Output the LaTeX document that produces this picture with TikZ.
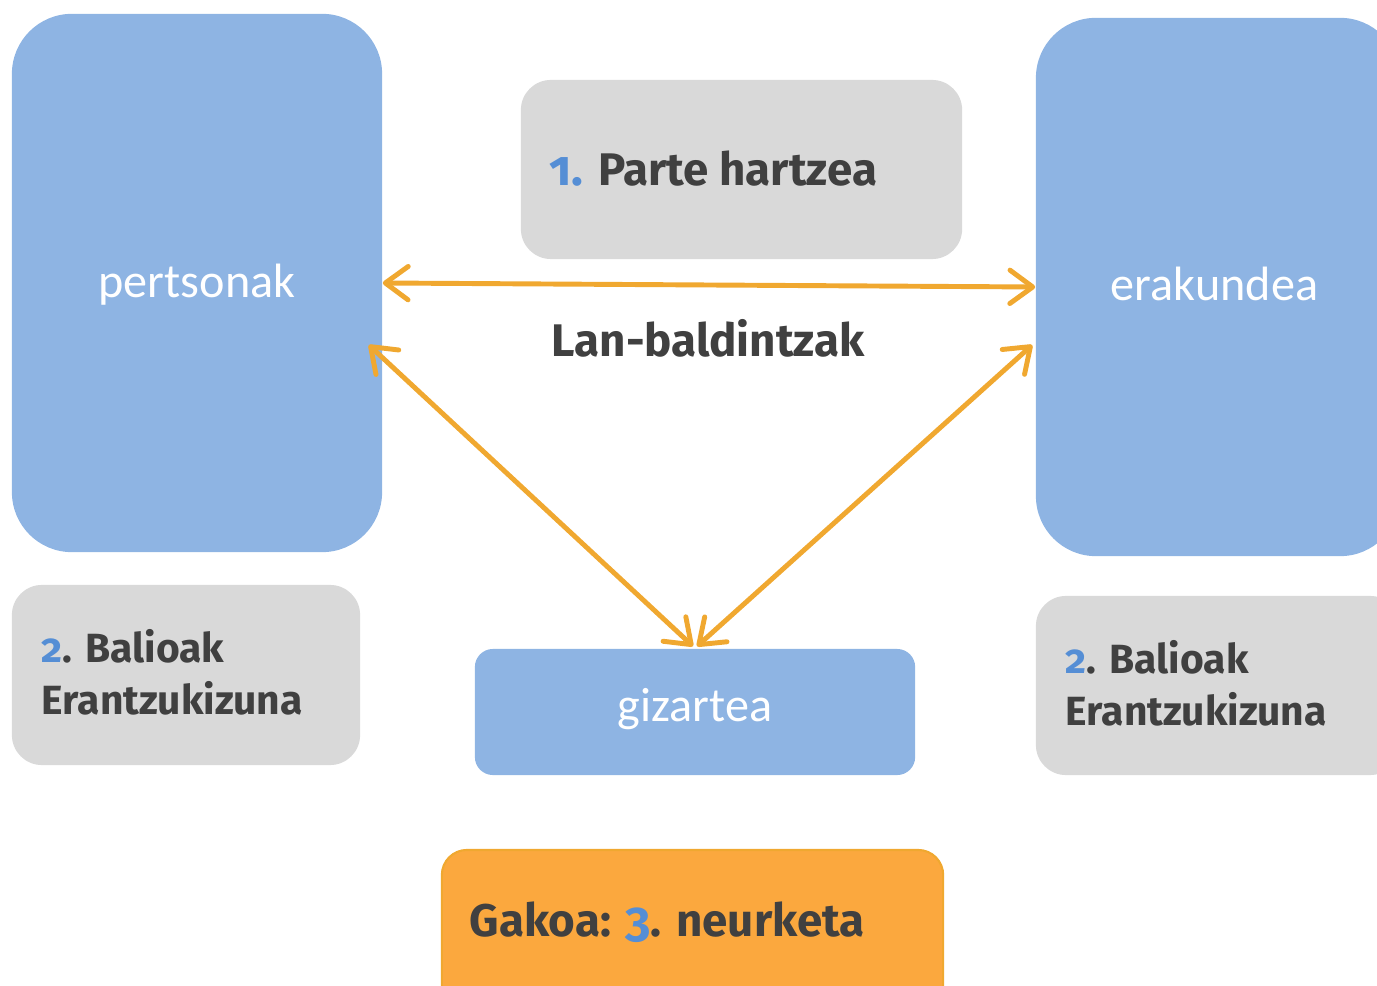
\documentclass[tikz,border=0pt]{standalone}
\usepackage{fontspec}
\setmainfont{Fira Sans}[Numbers=OldStyle]
\newfontfamily\labelfont{Carlito}
\usetikzlibrary{arrows.meta,calc}
\definecolor{boxblue}{HTML}{8EB4E3}
\definecolor{boxgrey}{HTML}{D9D9D9}
\definecolor{boxorange}{HTML}{FBA83E}
\definecolor{arrorange}{HTML}{F0A830}
\definecolor{txtdark}{HTML}{404040}
\definecolor{numblue}{HTML}{558ED5}
\newcommand{\num}[1]{\textcolor{numblue}{#1}}
\tikzset{
  bluebox/.style={fill=boxblue,draw=none,rounded corners=0.6cm,text=white,text depth=0pt,
    font=\labelfont\fontsize{13.7}{16}\selectfont},
  greybox/.style={fill=boxgrey,draw=none,rounded corners=0.3cm},
  boxtext/.style={anchor=base west,inner sep=0pt,text=txtdark,font=\bfseries\fontsize{13}{16}\selectfont},
  twolines/.style={align=left,font=\bfseries\fontsize{11.6}{14.6}\selectfont},
  linkarrow/.style={arrorange,line width=1.4pt,line cap=round,line join=round,
    {Straight Barb[length=6.5pt,width=9.5pt,round]}-{Straight Barb[length=6.5pt,width=9.5pt,round]}}
}
\begin{document}
\begin{tikzpicture}[x=0.01cm,y=-0.01cm]
\useasboundingbox (0,0) rectangle (1377,986);
\clip (0,0) rectangle (1377,986);
% main boxes
\node[bluebox,text height=8.5pt,minimum width=3.7cm,minimum height=5.38cm] (pertsonak) at (197,283) {pertsonak};
\node[bluebox,text height=7.4pt,minimum width=3.64cm,minimum height=5.38cm] (erakundea) at (1218,287) {\hspace*{-2pt}erakundea};
\node[bluebox,text height=5.2pt,rounded corners=0.18cm,minimum width=4.4cm,minimum height=1.26cm] (gizartea) at (695,712) {gizartea};
% grey and orange boxes
\node[greybox,minimum width=4.41cm,minimum height=1.79cm] (parte) at (741.5,169.5) {};
\node[greybox,minimum width=3.48cm,minimum height=1.8cm] (balioL) at (186,675) {};
\node[greybox,minimum width=3.64cm,minimum height=1.79cm] (balioR) at (1218,685.5) {};
\node[fill=boxorange,draw=arrorange,line width=0.6pt,rounded corners=0.25cm,minimum width=5.01cm,minimum height=1.6cm] (gakoa) at (692.5,930) {};
% texts
\node[boxtext] (parteTxt) at (549,186) {\num{\fontsize{14}{16}\selectfont 1.} Parte hartzea};
\node[boxtext,twolines] (balioLTxt) at (41,714) {\num{2}. Balioak\\Erantzukizuna};
\node[boxtext,twolines] (balioRTxt) at (1065,725) {\num{2}. Balioak\\Erantzukizuna};
\node[boxtext] (gakoaTxt) at (469,936) {Gakoa: \num{\fontsize{14}{16}\selectfont 3}. neurketa};
\node[boxtext,anchor=center] (lan) at (708,338) {Lan-baldintzak};
% arrows
\coordinate (pL) at ($(pertsonak.east)+(-14,62)$);
\coordinate (eL) at ($(erakundea.west)+(-3,58)$);
\draw[linkarrow] (pertsonak.east) -- (erakundea.west);
\draw[linkarrow] (pL) -- ($(gizartea.north)+(-2,-2)$);
\draw[linkarrow] ($(gizartea.north)+(2,-2)$) -- (eL);
\end{tikzpicture}
\end{document}
